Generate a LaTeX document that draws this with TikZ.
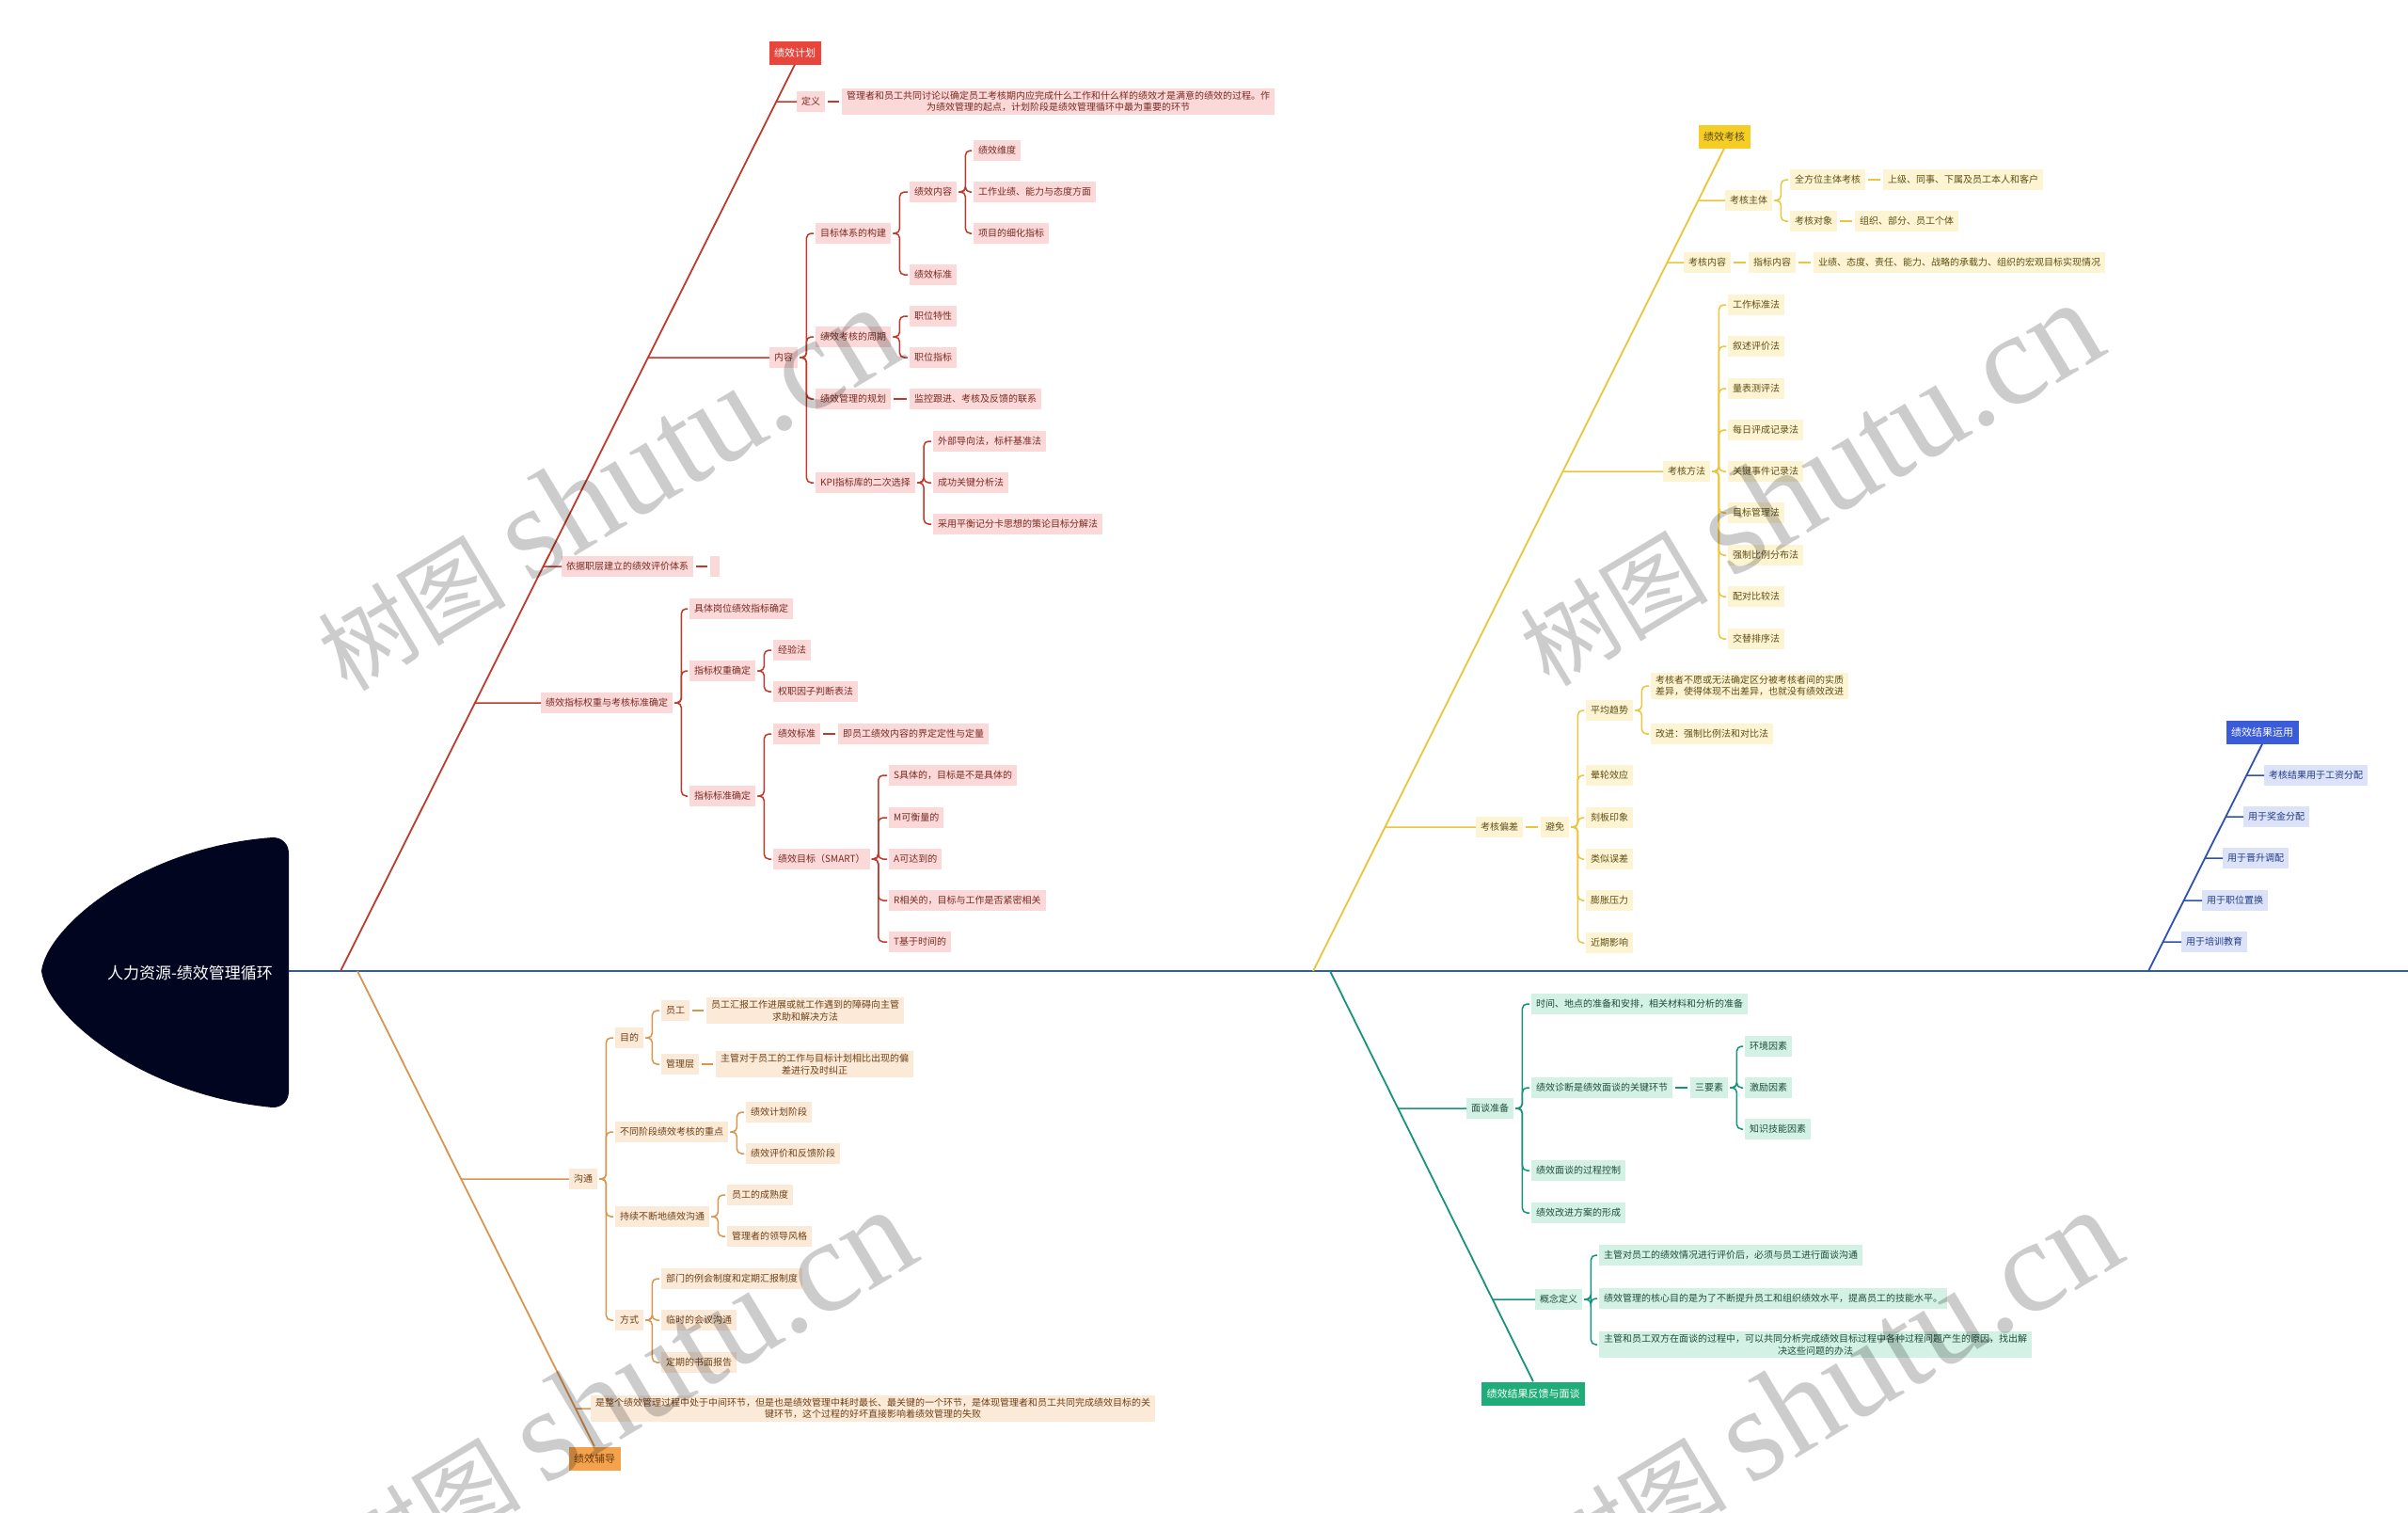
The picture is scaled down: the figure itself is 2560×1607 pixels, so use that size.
\documentclass[tikz,border=0pt]{standalone}
\usepackage{fontspec}
\setmainfont{Noto Sans CJK SC}
\newfontfamily\cjkwm{Noto Sans CJK SC}
\newfontfamily\wmlat{Liberation Serif}
\usetikzlibrary{calc}
\definecolor{rline}{HTML}{C0392B}
\definecolor{rfill}{HTML}{FAD9D8}
\definecolor{rtext}{HTML}{7A2A22}
\definecolor{rcat}{HTML}{E8453C}
\definecolor{yline}{HTML}{E9C63B}
\definecolor{yfill}{HTML}{FDF4D3}
\definecolor{ytext}{HTML}{5E4E14}
\definecolor{ycat}{HTML}{F5CD25}
\definecolor{bline}{HTML}{2D4FB8}
\definecolor{bfill}{HTML}{DCE3F8}
\definecolor{btext}{HTML}{233A85}
\definecolor{bcat}{HTML}{3B5CD8}
\definecolor{oline}{HTML}{D8964F}
\definecolor{ofill}{HTML}{FCEAD9}
\definecolor{otext}{HTML}{6E4015}
\definecolor{ocat}{HTML}{F4A24B}
\definecolor{gline}{HTML}{17937A}
\definecolor{gfill}{HTML}{D4F1E5}
\definecolor{gtext}{HTML}{1E4D3D}
\definecolor{gcat}{HTML}{1EAD78}
\definecolor{spinec}{HTML}{2C5DB0}
\definecolor{headc}{HTML}{01051F}
\newcommand\mybrk[3]{\draw[#1] ([xshift=2pt]#2.east) -- ++(7,0) |- ([xshift=-2pt]#3.west);}
\newcommand\mydash[3]{\draw[#1] ([xshift=3pt]#2.east) -- ([xshift=-3pt]#3.west);}
\newcommand\mybranch[4]{\draw[#1] (intersection of #2--#3 and #4.west--#4.east) -- (#4.west);}
\begin{document}
\begin{tikzpicture}[x=1pt,y=-1pt,
  box/.style={anchor=west, inner xsep=5pt, inner ysep=3pt, minimum height=22pt, font=\fontsize{10}{12.5}\selectfont},
  rbox/.style={box, fill=rfill, text=rtext},
  ybox/.style={box, fill=yfill, text=ytext},
  bbox/.style={box, fill=bfill, text=btext},
  obox/.style={box, fill=ofill, text=otext},
  gbox/.style={box, fill=gfill, text=gtext},
  cat/.style={inner xsep=5.5pt, inner ysep=3pt, minimum height=25pt, font=\fontsize{11}{13}\selectfont},
  rcatb/.style={cat, fill=rcat, text=white},
  ycatb/.style={cat, fill=ycat, text=ytext},
  bcatb/.style={cat, fill=bcat, text=white},
  ocatb/.style={cat, fill=ocat, text=otext},
  gcatb/.style={cat, fill=gcat, text=white},
  rl/.style={draw=rline, line width=1.5pt, rounded corners=5pt},
  yl/.style={draw=yline, line width=1.5pt, rounded corners=5pt},
  bl/.style={draw=bline, line width=1.5pt, rounded corners=5pt},
  ol/.style={draw=oline, line width=1.5pt, rounded corners=5pt},
  gl/.style={draw=gline, line width=1.5pt, rounded corners=5pt},
  diag/.style={line width=1.8pt},
  spine/.style={draw=spinec, line width=2.2pt},
  wm/.style={rotate=31, text=black, text opacity=0.2, inner sep=0pt}
]
\useasboundingbox (0,0) rectangle (2560,1607);
\fill[white] (0,0) rectangle (2560,1607);
\clip (0,0) rectangle (2560,1607);

% head
\fill[headc] (290,890) .. controls (150,900) and (50,985) .. (44,1032) .. controls (50,1079) and (150,1164) .. (290,1177) .. controls (300,1177) and (307,1170) .. (307,1160) -- (307,907) .. controls (307,897) and (300,890) .. (290,890) -- cycle;
\node[font=\fontsize{17}{20}\selectfont, text=white] (head) at (202,1034) {人力资源-绩效管理循环};

% spine
\coordinate (spL) at (307,1032);
\coordinate (spR) at (2560,1032);
\draw[spine] (spL) -- (spR);
\coordinate (rs) at (362,1032);
\coordinate (os) at (380,1032);
\coordinate (ys) at (1396,1032);
\coordinate (gs) at (1414,1032);
\coordinate (bs) at (2284,1032);

% categories
\node[rcatb] (rc) at (845,56) {绩效计划};
\node[ycatb] (yc) at (1833,145) {绩效考核};
\node[bcatb] (bc) at (2405,778) {绩效结果运用};
\node[ocatb] (oc) at (632,1550) {绩效辅导};
\node[gcatb] (gc) at (1630,1481) {绩效结果反馈与面谈};

\draw[diag, draw=rline] (rs) -- (rc.south);
\draw[diag, draw=yline] (ys) -- (yc.south);
\draw[diag, draw=bline] (bs) -- (bc.south);
\draw[diag, draw=oline] (os) -- (oc.north);
\draw[diag, draw=gline] (gs) -- (gc.north);

% ===== red =====
\node[rbox] (rdy) at (847,108) {定义};
\node[rbox, align=center] (rdef) at (895,108) {管理者和员工共同讨论以确定员工考核期内应完成什么工作和什么样的绩效才是满意的绩效的过程。作\\为绩效管理的起点，计划阶段是绩效管理循环中最为重要的环节};
\node[rbox] (rnr) at (818,380) {内容};
\node[rbox] (rmb) at (867,248) {目标体系的构建};
\node[rbox] (rzq) at (867,358) {绩效考核的周期};
\node[rbox] (rgh) at (867,424) {绩效管理的规划};
\node[rbox] (rkpi) at (867,513) {KPI指标库的二次选择};
\node[rbox] (rjxnr) at (967,204) {绩效内容};
\node[rbox] (rjxbz) at (967,292) {绩效标准};
\node[rbox] (rwd) at (1035,160) {绩效维度};
\node[rbox] (rgz) at (1035,204) {工作业绩、能力与态度方面};
\node[rbox] (rxm) at (1035,248) {项目的细化指标};
\node[rbox] (rzwtx) at (967,336) {职位特性};
\node[rbox] (rzwzb) at (967,380) {职位指标};
\node[rbox] (rjk) at (967,424) {监控跟进、考核及反馈的联系};
\node[rbox] (rwb) at (992,469) {外部导向法，标杆基准法};
\node[rbox] (rcg) at (992,513) {成功关键分析法};
\node[rbox] (rph) at (992,557) {采用平衡记分卡思想的策论目标分解法};
\node[rbox] (ryj) at (597,602) {依据职层建立的绩效评价体系};
\node[rbox, minimum width=10pt, inner xsep=0pt] (ryje) at (755,602) {};
\node[rbox] (rqz) at (575,747) {绩效指标权重与考核标准确定};
\node[rbox] (rjt) at (733,647) {具体岗位绩效指标确定};
\node[rbox] (rqzqd) at (733,713) {指标权重确定};
\node[rbox] (rbzqd) at (733,846) {指标标准确定};
\node[rbox] (rjy) at (822,691) {经验法};
\node[rbox] (rqzyz) at (822,735) {权职因子判断表法};
\node[rbox] (rbz2) at (822,780) {绩效标准};
\node[rbox] (rjyg) at (891,780) {即员工绩效内容的界定定性与定量};
\node[rbox] (rsmart) at (822,913) {绩效目标（SMART）};
\node[rbox] (rs1) at (945,824) {S具体的，目标是不是具体的};
\node[rbox] (rm1) at (945,869) {M可衡量的};
\node[rbox] (ra1) at (945,913) {A可达到的};
\node[rbox] (rr1) at (945,957) {R相关的，目标与工作是否紧密相关};
\node[rbox] (rt1) at (945,1001) {T基于时间的};

\mybranch{rl}{rs}{rc.south}{rdy}
\mydash{rl}{rdy}{rdef}
\mybranch{rl}{rs}{rc.south}{rnr}
\mybrk{rl}{rnr}{rmb}
\mybrk{rl}{rnr}{rzq}
\mybrk{rl}{rnr}{rgh}
\mybrk{rl}{rnr}{rkpi}
\mybrk{rl}{rmb}{rjxnr}
\mybrk{rl}{rmb}{rjxbz}
\mybrk{rl}{rjxnr}{rwd}
\mybrk{rl}{rjxnr}{rgz}
\mybrk{rl}{rjxnr}{rxm}
\mybrk{rl}{rzq}{rzwtx}
\mybrk{rl}{rzq}{rzwzb}
\mydash{rl}{rgh}{rjk}
\mybrk{rl}{rkpi}{rwb}
\mybrk{rl}{rkpi}{rcg}
\mybrk{rl}{rkpi}{rph}
\mybranch{rl}{rs}{rc.south}{ryj}
\mydash{rl}{ryj}{ryje}
\mybranch{rl}{rs}{rc.south}{rqz}
\mybrk{rl}{rqz}{rjt}
\mybrk{rl}{rqz}{rqzqd}
\mybrk{rl}{rqz}{rbzqd}
\mybrk{rl}{rqzqd}{rjy}
\mybrk{rl}{rqzqd}{rqzyz}
\mybrk{rl}{rbzqd}{rbz2}
\mybrk{rl}{rbzqd}{rsmart}
\mydash{rl}{rbz2}{rjyg}
\mybrk{rl}{rsmart}{rs1}
\mybrk{rl}{rsmart}{rm1}
\mybrk{rl}{rsmart}{ra1}
\mybrk{rl}{rsmart}{rr1}
\mybrk{rl}{rsmart}{rt1}

% ===== yellow =====
\node[ybox] (ykhzt) at (1834,213) {考核主体};
\node[ybox] (yqfw) at (1903,191) {全方位主体考核};
\node[ybox] (ysj) at (2002,191) {上级、同事、下属及员工本人和客户};
\node[ybox] (ykhdx) at (1903,235) {考核对象};
\node[ybox] (yzz) at (1972,235) {组织、部分、员工个体};
\node[ybox] (ykhnr) at (1790,279) {考核内容};
\node[ybox] (yzbnr) at (1859,279) {指标内容};
\node[ybox] (yyj) at (1928,279) {业绩、态度、责任、能力、战略的承载力、组织的宏观目标实现情况};
\node[ybox] (ykhff) at (1768,501) {考核方法};
\node[ybox] (ym1) at (1837,324) {工作标准法};
\node[ybox] (ym2) at (1837,368) {叙述评价法};
\node[ybox] (ym3) at (1837,413) {量表测评法};
\node[ybox] (ym4) at (1837,457) {每日评成记录法};
\node[ybox] (ym5) at (1837,501) {关键事件记录法};
\node[ybox] (ym6) at (1837,545) {目标管理法};
\node[ybox] (ym7) at (1837,590) {强制比例分布法};
\node[ybox] (ym8) at (1837,634) {配对比较法};
\node[ybox] (ym9) at (1837,679) {交替排序法};
\node[ybox] (ykhpc) at (1569,879) {考核偏差};
\node[ybox] (ybm) at (1638,879) {避免};
\node[ybox] (ypj) at (1686,755) {平均趋势};
\node[ybox] (yyl) at (1686,824) {晕轮效应};
\node[ybox] (ykb) at (1686,869) {刻板印象};
\node[ybox] (yls) at (1686,913) {类似误差};
\node[ybox] (ypz) at (1686,957) {膨胀压力};
\node[ybox] (yjq) at (1686,1002) {近期影响};
\node[ybox, align=left] (ykhz) at (1755,729) {考核者不愿或无法确定区分被考核者间的实质\\差异，使得体现不出差异，也就没有绩效改进};
\node[ybox] (ygj) at (1755,780) {改进：强制比例法和对比法};

\mybranch{yl}{ys}{yc.south}{ykhzt}
\mybrk{yl}{ykhzt}{yqfw}
\mybrk{yl}{ykhzt}{ykhdx}
\mydash{yl}{yqfw}{ysj}
\mydash{yl}{ykhdx}{yzz}
\mybranch{yl}{ys}{yc.south}{ykhnr}
\mydash{yl}{ykhnr}{yzbnr}
\mydash{yl}{yzbnr}{yyj}
\mybranch{yl}{ys}{yc.south}{ykhff}
\foreach \k in {1,...,9} {\mybrk{yl}{ykhff}{ym\k}}
\mybranch{yl}{ys}{yc.south}{ykhpc}
\mydash{yl}{ykhpc}{ybm}
\mybrk{yl}{ybm}{ypj}
\mybrk{yl}{ybm}{yyl}
\mybrk{yl}{ybm}{ykb}
\mybrk{yl}{ybm}{yls}
\mybrk{yl}{ybm}{ypz}
\mybrk{yl}{ybm}{yjq}
\mybrk{yl}{ypj}{ykhz}
\mybrk{yl}{ypj}{ygj}

% ===== blue =====
\node[bbox] (bgz) at (2407,824) {考核结果用于工资分配};
\node[bbox] (bjj) at (2385,868) {用于奖金分配};
\node[bbox] (bjs) at (2363,912) {用于晋升调配};
\node[bbox] (bzw) at (2341,957) {用于职位置换};
\node[bbox] (bpx) at (2319,1001) {用于培训教育};
\mybranch{bl}{bs}{bc.south}{bgz}
\mybranch{bl}{bs}{bc.south}{bjj}
\mybranch{bl}{bs}{bc.south}{bjs}
\mybranch{bl}{bs}{bc.south}{bzw}
\mybranch{bl}{bs}{bc.south}{bpx}

% ===== orange =====
\node[obox] (ogt) at (605,1253) {沟通};
\node[obox] (omd) at (654,1103) {目的};
\node[obox] (oyg) at (703,1074) {员工};
\node[obox, align=center] (oygt) at (751,1074) {员工汇报工作进展或就工作遇到的障碍向主管\\求助和解决方法};
\node[obox] (oglc) at (703,1131) {管理层};
\node[obox, align=center] (oglct) at (761,1131) {主管对于员工的工作与目标计划相比出现的偏\\差进行及时纠正};
\node[obox] (obt) at (654,1203) {不同阶段绩效考核的重点};
\node[obox] (ojh) at (793,1182) {绩效计划阶段};
\node[obox] (opj) at (793,1226) {绩效评价和反馈阶段};
\node[obox] (ocx) at (654,1293) {持续不断地绩效沟通};
\node[obox] (ocsd) at (773,1270) {员工的成熟度};
\node[obox] (old) at (773,1314) {管理者的领导风格};
\node[obox] (ofs) at (654,1403) {方式};
\node[obox] (olh) at (703,1359) {部门的例会制度和定期汇报制度};
\node[obox] (olsh) at (703,1403) {临时的会议沟通};
\node[obox] (osm) at (703,1448) {定期的书面报告};
\node[obox, align=center] (olong) at (628,1497) {是整个绩效管理过程中处于中间环节，但是也是绩效管理中耗时最长、最关键的一个环节，是体现管理者和员工共同完成绩效目标的关\\键环节，这个过程的好坏直接影响着绩效管理的失败};

\mybranch{ol}{os}{oc.north}{ogt}
\mybrk{ol}{ogt}{omd}
\mybrk{ol}{ogt}{obt}
\mybrk{ol}{ogt}{ocx}
\mybrk{ol}{ogt}{ofs}
\mybrk{ol}{omd}{oyg}
\mybrk{ol}{omd}{oglc}
\mydash{ol}{oyg}{oygt}
\mydash{ol}{oglc}{oglct}
\mybrk{ol}{obt}{ojh}
\mybrk{ol}{obt}{opj}
\mybrk{ol}{ocx}{ocsd}
\mybrk{ol}{ocx}{old}
\mybrk{ol}{ofs}{olh}
\mybrk{ol}{ofs}{olsh}
\mybrk{ol}{ofs}{osm}
\mybranch{ol}{os}{oc.north}{olong}

% ===== green =====
\node[gbox] (gmt) at (1559,1178) {面谈准备};
\node[gbox] (gsj) at (1628,1067) {时间、地点的准备和安排，相关材料和分析的准备};
\node[gbox] (gzd) at (1628,1156) {绩效诊断是绩效面谈的关键环节};
\node[gbox] (gsys) at (1797,1156) {三要素};
\node[gbox] (ghj) at (1855,1112) {环境因素};
\node[gbox] (gjl) at (1855,1156) {激励因素};
\node[gbox] (gzs) at (1855,1200) {知识技能因素};
\node[gbox] (ggc) at (1628,1244) {绩效面谈的过程控制};
\node[gbox] (ggj) at (1628,1289) {绩效改进方案的形成};
\node[gbox] (ggn) at (1632,1381) {概念定义};
\node[gbox] (gc1) at (1700,1334) {主管对员工的绩效情况进行评价后，必须与员工进行面谈沟通};
\node[gbox] (gc2) at (1700,1380) {绩效管理的核心目的是为了不断提升员工和组织绩效水平，提高员工的技能水平。};
\node[gbox, align=center] (gc3) at (1700,1429) {主管和员工双方在面谈的过程中，可以共同分析完成绩效目标过程中各种过程问题产生的原因，找出解\\决这些问题的办法};

\mybranch{gl}{gs}{gc.north}{gmt}
\mybrk{gl}{gmt}{gsj}
\mybrk{gl}{gmt}{gzd}
\mybrk{gl}{gmt}{ggc}
\mybrk{gl}{gmt}{ggj}
\mydash{gl}{gzd}{gsys}
\mybrk{gl}{gsys}{ghj}
\mybrk{gl}{gsys}{gjl}
\mybrk{gl}{gsys}{gzs}
\mybranch{gl}{gs}{gc.north}{ggn}
\mybrk{gl}{ggn}{gc1}
\mybrk{gl}{ggn}{gc2}
\mybrk{gl}{ggn}{gc3}

% watermarks
\node[wm] (wm1) at (645,519) {{\cjkwm\fontsize{100}{100}\selectfont 树图}\hspace{25pt}{\wmlat\fontsize{140}{140}\selectfont shutu.cn}};
\node[wm] (wm2) at (1923,514) {{\cjkwm\fontsize{100}{100}\selectfont 树图}\hspace{25pt}{\wmlat\fontsize{140}{140}\selectfont shutu.cn}};
\node[wm] (wm3) at (661,1478) {{\cjkwm\fontsize{100}{100}\selectfont 树图}\hspace{25pt}{\wmlat\fontsize{140}{140}\selectfont shutu.cn}};
\node[wm] (wm4) at (1943,1478) {{\cjkwm\fontsize{100}{100}\selectfont 树图}\hspace{25pt}{\wmlat\fontsize{140}{140}\selectfont shutu.cn}};
\end{tikzpicture}
\end{document}
